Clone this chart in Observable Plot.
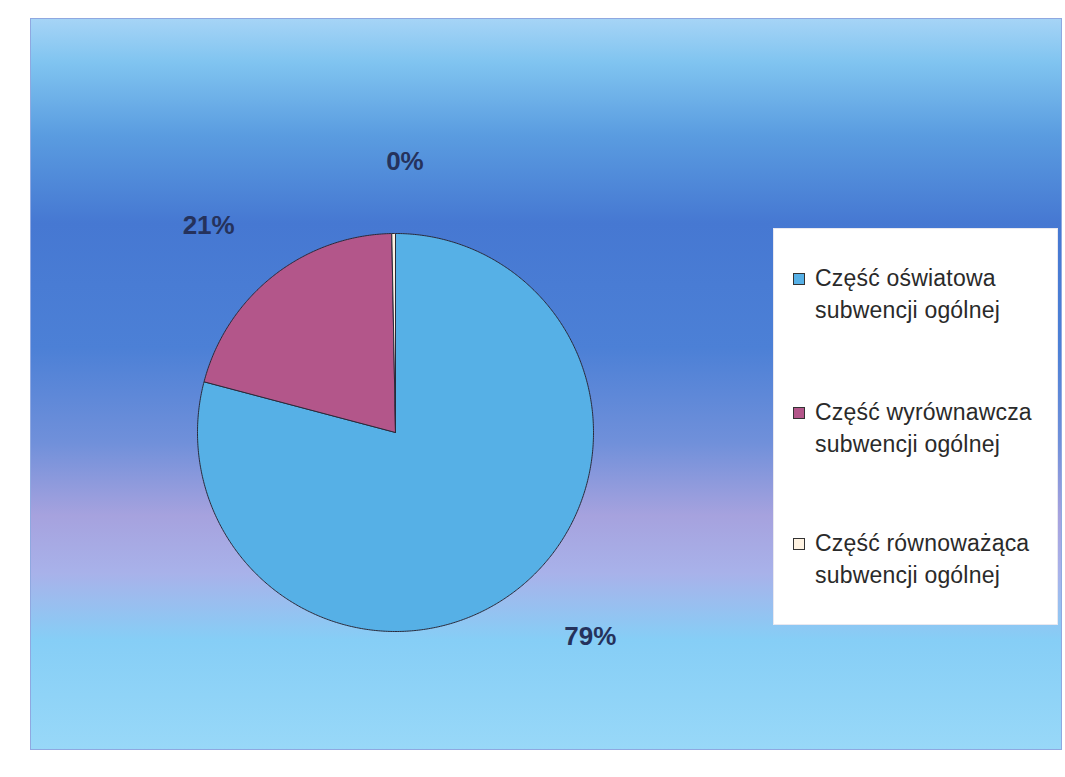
<!DOCTYPE html>
<html>
<head>
<meta charset="utf-8">
<script src="https://cdn.jsdelivr.net/npm/d3@7"></script>
<script src="https://cdn.jsdelivr.net/npm/@observablehq/plot@0.6"></script>
<style>
  body { margin: 0; background: #fff; }
  #wrap { position: relative; width: 1065px; height: 777px; font-family: "Liberation Sans", Arial, sans-serif; }
  #legend { position: absolute; left: 773px; top: 228px; width: 285px; height: 397px; background: #fff; border: 1px solid #e8e8f0; box-sizing: border-box; }
  .item { position: absolute; left: 0; width: 285px; font-size: 23px; line-height: 32px; color: #2a2a2a; letter-spacing: 0.2px; }
  .item .sw { position: absolute; left: 19px; top: 11px; width: 12px; height: 12px; border: 1px solid #333; box-sizing: border-box; }
  .item .tx { position: absolute; left: 41px; white-space: nowrap; }
</style>
</head>
<body>
<div id="wrap"></div>
<script>
const categories = ["Część oświatowa subwencji ogólnej", "Część wyrównawcza subwencji ogólnej", "Część równoważąca subwencji ogólnej"];
const legendLine1 = ["Część oświatowa", "Część wyrównawcza", "Część równoważąca"];
const legendLine2 = ["subwencji ogólnej", "subwencji ogólnej", "subwencji ogólnej"];
const values = [79.1, 20.6, 0.3];
const labels = ["79%", "21%", "0%"];
const colors = ["#56b0e6", "#b3568a", "#fff3e2"];

const arcs = d3.pie().sort(null).value(d => d)(values);
const rows = [];
arcs.forEach((a, i) => {
  rows.push({slice: categories[i], x: 0, y: 0});
  const n = Math.max(2, Math.ceil((a.endAngle - a.startAngle) / (Math.PI / 360)));
  for (let k = 0; k <= n; k++) {
    const t = a.startAngle + (a.endAngle - a.startAngle) * k / n;
    rows.push({slice: categories[i], x: Math.sin(t), y: Math.cos(t)});
  }
  rows.push({slice: categories[i], x: 0, y: 0});
});
const labelRows = arcs.map((a, i) => {
  const m = (a.startAngle + a.endAngle) / 2;
  const r = 1.38;
  return {label: labels[i], x: r * Math.sin(m), y: r * Math.cos(m)};
});
// small per-label nudges (pixels), like Excel's best-fit label placement
const labelNudge = [[28, -13], [-18, 9], [12, 4]];

const defs = () => {
  const d = d3.create("svg:defs");
  const g = d.append("linearGradient").attr("id", "bg").attr("x1", 0).attr("y1", 0).attr("x2", 0).attr("y2", 1);
  [[0, "#a6d4f6"], [0.06, "#80c4f0"], [0.16, "#5a9ce0"], [0.28, "#4678d2"], [0.45, "#4c80d6"],
   [0.58, "#7090da"], [0.68, "#a6a2de"], [0.76, "#a8b2ea"], [0.85, "#86cef6"], [1, "#98d8f8"]]
    .forEach(([o, c]) => g.append("stop").attr("offset", o).attr("stop-color", c));
  return d.node();
};

const textStyle = {fontSize: 26, fontWeight: "bold", fill: "#25325c", fontFamily: "Liberation Sans, Arial, sans-serif"};

const chart = Plot.plot({
  width: 1065,
  height: 777,
  marginLeft: 30, marginRight: 4, marginTop: 18, marginBottom: 28,
  x: {domain: [-1, 1], range: [197, 593], axis: null},
  y: {domain: [-1, 1], range: [631, 233], axis: null},
  color: {domain: categories, range: colors},
  style: {background: "#fff", overflow: "visible"},
  marks: [
    defs,
    Plot.frame({fill: "url(#bg)", stroke: "#8fa8e0", strokeWidth: 1}),
    Plot.line(rows, {x: "x", y: "y", z: "slice", fill: "slice", stroke: "#2a2a3a", strokeWidth: 1, strokeLinejoin: "round"}),
    ...labelRows.map((d, i) => Plot.text([d], {x: "x", y: "y", text: "label", dx: labelNudge[i][0], dy: labelNudge[i][1], ...textStyle}))
  ]
});
const wrap = document.getElementById("wrap");
wrap.appendChild(chart);

const legend = document.createElement("div");
legend.id = "legend";
const tops = [33, 167, 298];
categories.forEach((c, i) => {
  const it = document.createElement("div");
  it.className = "item";
  it.style.top = tops[i] + "px";
  it.innerHTML = `<div class="sw" style="background:${colors[i]}"></div><div class="tx">${legendLine1[i]}<br>${legendLine2[i]}</div>`;
  legend.appendChild(it);
});
wrap.appendChild(legend);
</script>
</body>
</html>
